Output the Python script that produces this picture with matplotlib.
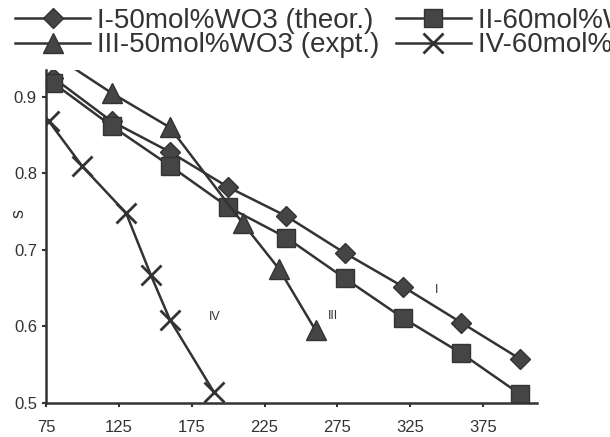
import matplotlib
matplotlib.use("Agg")
import matplotlib.pyplot as plt

plt.rcParams['font.family'] = ['Liberation Sans', 'DejaVu Sans']

# Data
x_theor = [80, 120, 160, 200, 240, 280, 320, 360, 400]
s_I = [0.925, 0.868, 0.828, 0.782, 0.744, 0.696, 0.652, 0.605, 0.558]
s_II = [0.918, 0.862, 0.810, 0.756, 0.716, 0.663, 0.611, 0.565, 0.512]

x_III = [80, 120, 160, 210, 235, 260]
s_III = [0.955, 0.905, 0.860, 0.735, 0.675, 0.595]

x_IV = [77, 100, 130, 147, 160, 190]
s_IV = [0.868, 0.809, 0.748, 0.667, 0.609, 0.515]

labels = ['I-50mol%WO3 (theor.)', 'II-60mol%WO3 (theor.)',
          'III-50mol%WO3 (expt.)', 'IV-60mol%WO3 (expt.)']
xticks = [75, 125, 175, 225, 275, 325, 375]
yticks = [0.5, 0.6, 0.7, 0.8, 0.9]

ink = '#333333'
fill = '#454545'

fig = plt.figure(figsize=(6.1, 4.37), dpi=100)
ax = fig.add_axes([46 / 610, 1 - 403 / 437, (537 - 46) / 610, (403 - 70) / 437])

line_kw = dict(color=ink, lw=1.8, mfc=fill, mec=ink, mew=1.0)
l1, = ax.plot(x_theor, s_I, marker='D', ms=10.5, **line_kw)
l2, = ax.plot(x_theor, s_II, marker='s', ms=13.5, **line_kw)
l3, = ax.plot(x_III, s_III, marker='^', ms=15, **line_kw)
l4, = ax.plot(x_IV, s_IV, marker='x', ms=15, color=ink, lw=1.8, mew=2.0)

# curve labels
ax.text(343, 0.648, 'I', fontsize=9, color=ink, ha='center', va='center')
ax.text(272, 0.614, 'III', fontsize=9, color=ink, ha='center', va='center')
ax.text(191, 0.612, 'IV', fontsize=9, color=ink, ha='center', va='center')

ax.set_xlim(75, 412)
ax.set_ylim(0.5, 0.935)
ax.set_xticks(xticks)
ax.set_yticks(yticks)
ax.set_yticklabels([f'{v:.1f}' for v in yticks])
ax.tick_params(labelsize=12, colors=ink, length=3, width=1.5)
ax.tick_params(axis='x', pad=9)
ax.set_ylabel('s', fontsize=13, color=ink)
ax.yaxis.set_label_coords(-(46 - 27) / 491, (403 - 213) / 333)

for side in ['top', 'right']:
    ax.spines[side].set_visible(False)
for side in ['left', 'bottom']:
    ax.spines[side].set_linewidth(1.8)
    ax.spines[side].set_color(ink)

fig.legend([l1, l3, l2, l4], [labels[0], labels[2], labels[1], labels[3]],
           loc='upper left', bbox_to_anchor=(15 / 610, 1 - 8 / 437),
           ncol=2, frameon=False, fontsize=20, handlelength=2.7,
           handletextpad=0.25, columnspacing=0.6, labelspacing=-0.06,
           borderpad=0, borderaxespad=0, labelcolor=ink)

fig.savefig('out.png', dpi=100)
